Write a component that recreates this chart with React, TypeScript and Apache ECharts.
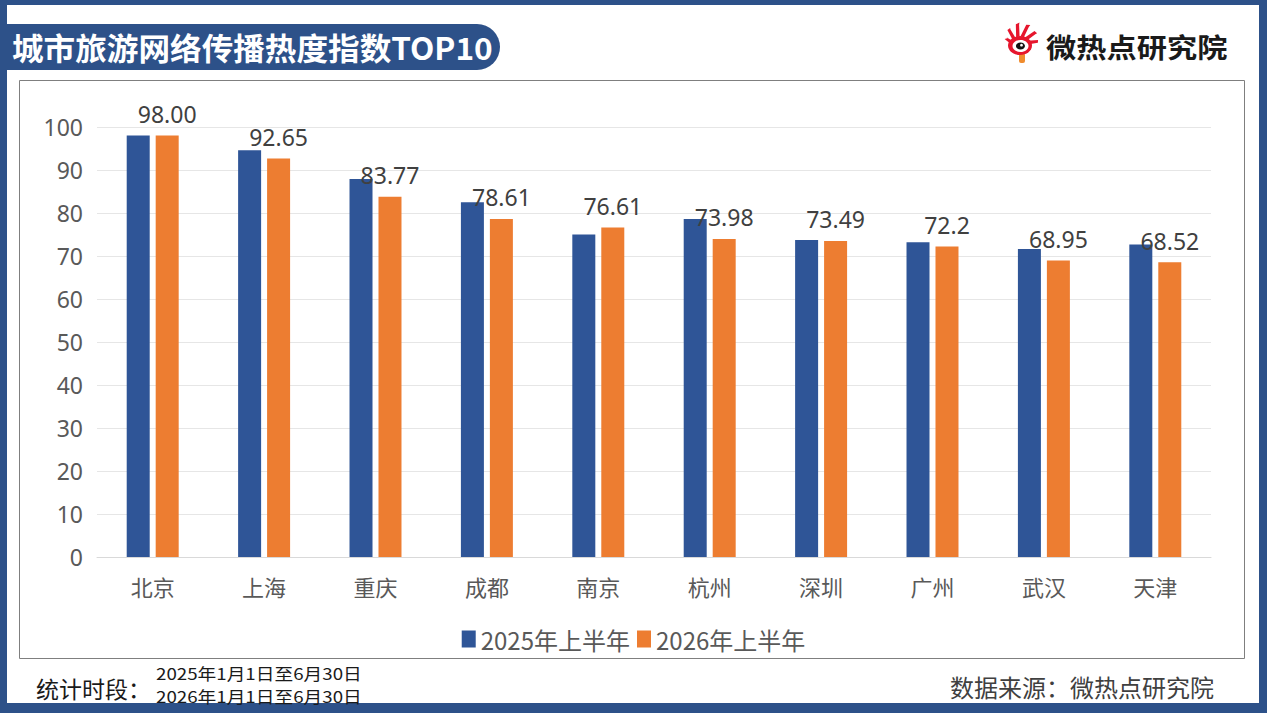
import React, { useEffect, useRef } from "react";
import * as echarts from "echarts";

const categories = ["北京", "上海", "重庆", "成都", "南京", "杭州", "深圳", "广州", "武汉", "天津"];
const values2025 = [98.0, 94.6, 87.9, 82.5, 75.0, 78.6, 73.7, 73.2, 71.6, 72.7];
const values2026 = [98.0, 92.65, 83.77, 78.61, 76.61, 73.98, 73.49, 72.2, 68.95, 68.52];
const labels2026 = ["98.00", "92.65", "83.77", "78.61", "76.61", "73.98", "73.49", "72.2", "68.95", "68.52"];
const seriesNames = ["2025年上半年", "2026年上半年"];
const yTicks = { min: 0, max: 100, interval: 10 };

const FONT = "'Noto Sans', 'Noto Sans CJK SC', sans-serif";
const CJK = "'Noto Sans CJK SC', 'Noto Sans', sans-serif";
const FRAME = "#2D5189";

export default function App() {
  const ref = useRef<HTMLDivElement>(null);
  useEffect(() => {
    document.body.style.margin = "0";
    const chart = echarts.init(ref.current!, null, { renderer: "svg" });
    const cx = 1020, cy = 45.5;
    const rays: any[] = [];
    const rayDefs = [
      [-160, 14],
      [-132, 20],
      [-104, 23],
      [-76, 23],
      [-48, 21],
      [-20, 18],
    ];
    rayDefs.forEach(([a, len]) => {
      const r = (a * Math.PI) / 180;
      const w = 0.2;
      const r0 = 9;
      rays.push({
        type: "polygon",
        shape: {
          points: [
            [cx + r0 * Math.cos(r - w), cy + r0 * Math.sin(r - w)],
            [cx + (r0 + len * 0.55) * Math.cos(r + 0.05), cy + (r0 + len * 0.55) * Math.sin(r + 0.05)],
            [cx + len * Math.cos(r + 0.22), cy + len * Math.sin(r + 0.22)],
            [cx + (r0 + len * 0.5) * Math.cos(r + 0.2), cy + (r0 + len * 0.5) * Math.sin(r + 0.2)],
            [cx + r0 * Math.cos(r + w), cy + r0 * Math.sin(r + w)],
          ],
        },
        style: { fill: "#E6162D" },
      });
    });
    chart.setOption({
      animation: false,
      graphic: [
        { type: "rect", shape: { x: 0, y: 0, width: 1267, height: 713 }, style: { fill: FRAME }, z: -10 },
        { type: "rect", shape: { x: 7, y: 5, width: 1252, height: 698 }, style: { fill: "#ffffff" }, z: -9 },
        { type: "rect", shape: { x: 19.5, y: 80.5, width: 1225, height: 578 }, style: { fill: "none", stroke: "#7f7f7f", lineWidth: 1 }, z: -8 },
        { type: "rect", shape: { x: 7, y: 24, width: 493, height: 46, r: [0, 23, 23, 0] }, style: { fill: FRAME } },
        {
          type: "text",
          x: 12,
          y: 47,
          scaleX: 1.02,
          style: { text: "城市旅游网络传播热度指数TOP10", fill: "#ffffff", font: `bold 31px ${CJK}`, textVerticalAlign: "middle" },
        },
        ...rays,
        { type: "rect", shape: { x: 1019, y: 53, width: 6, height: 10, r: 2 }, style: { fill: "#F08C2E" } },
        { type: "ellipse", shape: { cx, cy, rx: 12, ry: 9.5 }, style: { fill: "#E6162D" } },
        { type: "ellipse", shape: { cx: cx + 0.5, cy: cy + 0.5, rx: 8, ry: 6 }, style: { fill: "#ffffff" } },
        { type: "ellipse", shape: { cx: cx + 0.5, cy: cy + 0.5, rx: 4.5, ry: 3.5 }, style: { fill: "#111111" } },
        { type: "circle", shape: { cx: cx + 1.5, cy: cy - 0.3, r: 1.4 }, style: { fill: "#ffffff" } },
        {
          type: "text",
          x: 1046,
          y: 46,
          scaleX: 1.12,
          style: { text: "微热点研究院", fill: "#1a1a1a", font: `bold 27px ${CJK}`, textVerticalAlign: "middle" },
        },
        {
          type: "text",
          x: 36,
          y: 688,
          style: { text: "统计时段：", fill: "#1a1a1a", font: `23px ${CJK}`, textVerticalAlign: "middle" },
        },
        {
          type: "text",
          x: 156,
          y: 673,
          scaleX: 1.17,
          style: { text: "2025年1月1日至6月30日", fill: "#1a1a1a", font: `16px ${CJK}`, textVerticalAlign: "middle" },
        },
        {
          type: "text",
          x: 156,
          y: 696,
          scaleX: 1.17,
          style: { text: "2026年1月1日至6月30日", fill: "#1a1a1a", font: `16px ${CJK}`, textVerticalAlign: "middle" },
        },
        {
          type: "text",
          x: 1214,
          y: 686,
          style: { text: "数据来源：微热点研究院", fill: "#404040", font: `24px ${CJK}`, textAlign: "right", textVerticalAlign: "middle" },
        },
      ],
      grid: { left: 97, top: 127, width: 1114, height: 430, containLabel: false },
      legend: {
        data: seriesNames,
        left: "center",
        top: 622,
        icon: "rect",
        itemWidth: 14,
        itemHeight: 17,
        itemGap: 7,
        textStyle: { color: "#595959", fontSize: 24, fontFamily: CJK },
      },
      xAxis: {
        type: "category",
        data: categories,
        axisLine: { show: true, lineStyle: { color: "#d9d9d9", width: 1 } },
        axisTick: { show: false },
        axisLabel: { color: "#595959", fontSize: 22, fontFamily: CJK, margin: 18 },
      },
      yAxis: {
        type: "value",
        min: yTicks.min,
        max: yTicks.max,
        interval: yTicks.interval,
        axisLine: { show: false },
        axisTick: { show: false },
        splitLine: { lineStyle: { color: "#e6e6e6", width: 1 } },
        axisLabel: { color: "#595959", fontSize: 23, fontFamily: FONT, margin: 14 },
      },
      series: [
        {
          name: seriesNames[0],
          type: "bar",
          data: values2025,
          barWidth: 23,
          barGap: "26%",
          itemStyle: { color: "#2F5597" },
        },
        {
          name: seriesNames[1],
          type: "bar",
          data: values2026,
          barWidth: 23,
          itemStyle: { color: "#ED7D31" },
          label: {
            show: true,
            position: "top",
            distance: 10,
            color: "#404040",
            fontSize: 23,
            fontFamily: FONT,
            formatter: (p: any) => labels2026[p.dataIndex],
          },
        },
      ],
    });
    return () => chart.dispose();
  }, []);
  return <div ref={ref} style={{ width: 1267, height: 713 }} />;
}
